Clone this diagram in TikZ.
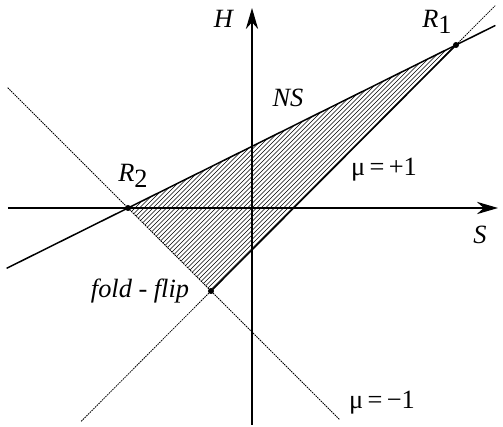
\documentclass[tikz,border=0pt]{standalone}
\usepackage{fontspec}
\setmainfont{Liberation Serif}
\usepackage{tikz}
\usetikzlibrary{calc,arrows.meta}
\newcommand{\Rlab}[1]{\textit{R}\raisebox{-0.45ex}{#1}}

\begin{document}
\begin{tikzpicture}[font=\fontsize{15}{17}\selectfont, >={Stealth[length=12pt,width=7pt]},
		axis/.style={line width=0.85pt},
		bound/.style={line width=0.85pt},
		mult/.style={line width=0.45pt, dash pattern=on 0.9pt off 0.5pt},
		hatch/.style={line width=0.25pt}]
			\useasboundingbox (-5.04,-4.38) rectangle (5.02,4.16);
			\coordinate (O) at (0,0);
			\coordinate (R1) at (4.08,3.26);
			\coordinate (R2) at (-2.48,0);
			\coordinate (F) at (-0.82,-1.66);
			% hatched region
			\begin{scope}
				\clip (R2) -- (R1) -- (F) -- cycle;
				\foreach \k in {-2.52,-2.43,...,0.95}
					\draw[hatch] (\k-5,-5) -- (\k+5,5);
			\end{scope}
			% axes
			\draw[axis,->] (-4.88,0) -- (4.92,0);
			\draw[axis,->] (0,-4.34) -- (0,4.0);
			\node (lblS) at (4.56,-0.54) {\textit{S}};
			\node (lblH) at (-0.56,3.78) {\textit{H}};
			% mu = -1 and mu = +1
			\draw[mult] ($(R2)!-1.45!(F)$) -- ($(F)!-1.55!(R2)$);
			\draw[mult] ($(F)!-0.53!(R1)$) -- ($(R1)!-0.16!(F)$);
			\draw[bound] (F) -- (R1);
			% NS curve
			\draw[bound] ($(R2)!-0.37!(R1)$) -- (R1) -- ($(R1)!-0.12!(R2)$);
			\fill (R1) circle (0.06) (R2) circle (0.06) (F) circle (0.06);
			\node (lblR1) at (3.7,3.72) {\Rlab{1}};
			\node (lblR2) at (-2.38,0.64) {\Rlab{2}};
			\node (lblF) at (-2.24,-1.66) {\textit{fold - flip}};
			\node (lblNS) at (0.72,2.2) {\textit{NS}};
			\node (lblP) at (2.64,0.76) {μ\,=\,+1};
			\node (lblM) at (2.6,-3.9) {μ\,=\,−1};
		\end{tikzpicture}
\end{document}
